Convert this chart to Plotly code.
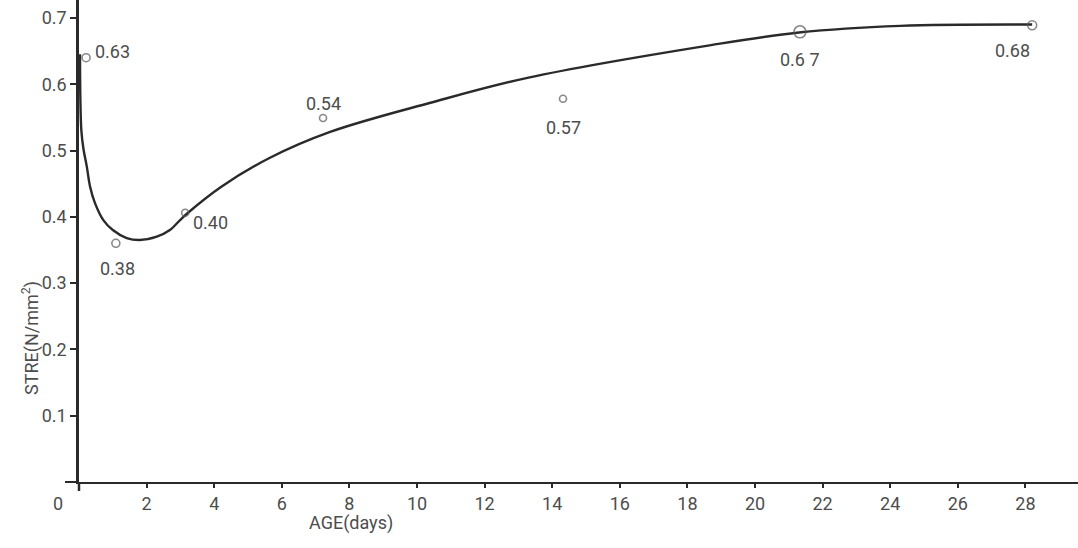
import plotly.graph_objects as go

# measured data points (age in days, stress N/mm^2)
point_days = [0.21, 1.09, 3.14, 7.22, 14.32, 21.33, 28.2]
point_stress = [0.640, 0.360, 0.406, 0.549, 0.578, 0.679, 0.689]
point_labels = ["0.63", "0.38", "0.40", "0.54", "0.57", "0.6 7", "0.68"]
marker_sizes = [8, 8, 7, 7, 7, 12, 9]
# label offsets (pixels) relative to each point
label_dx = [26, 2, 25, 0, 0, 0, -20]
label_dy = [6, -25, -10, 15, -29, -28, -25]

# hand-drawn fitted curve
curve_days = [0.03, 0.04, 0.07, 0.13, 0.23, 0.33, 0.47, 0.72, 1.0, 1.41, 1.8, 2.3,
              2.69, 2.99, 3.2, 4.2, 5.65, 7.43, 10.4, 13.3, 18.7, 21.3, 24.3, 28.2]
curve_stress = [0.645, 0.58, 0.53, 0.503, 0.476, 0.445, 0.421, 0.395, 0.38, 0.368,
                0.365, 0.370, 0.380, 0.395, 0.405, 0.445, 0.489, 0.528, 0.572, 0.610,
                0.659, 0.678, 0.688, 0.690]

x_ticks = [2, 4, 6, 8, 10, 12, 14, 16, 18, 20, 22, 24, 26, 28]
y_ticks = [0.1, 0.2, 0.3, 0.4, 0.5, 0.6, 0.7]
y_ticktext = ["0.1", "0.2", "0.3", "0.4", "0.5", "0.6", "0.7"]

ink = "#2a2a2a"
txt = "#4d4d4d"
font_family = "Roboto, DejaVu Sans, sans-serif"
PW, PH, L = 999, 482, 79

fig = go.Figure()
fig.add_trace(go.Scatter(
    x=curve_days, y=curve_stress, mode="lines",
    line=dict(color=ink, width=2.4, shape="spline", smoothing=1.0),
    hoverinfo="skip", showlegend=False))
fig.add_trace(go.Scatter(
    x=point_days, y=point_stress, mode="markers",
    marker=dict(symbol="circle-open", size=marker_sizes, color="#555", line=dict(width=1.6)),
    showlegend=False))

for d, s, t, dx, dy in zip(point_days, point_stress, point_labels, label_dx, label_dy):
    fig.add_annotation(x=d, y=s, text=t, showarrow=False, xshift=dx, yshift=dy,
                       xanchor="center", yanchor="middle",
                       font=dict(family=font_family, size=18, color=txt))

def px_ann(cx, cy, text, angle=0):
    fig.add_annotation(xref="paper", yref="paper", x=(cx - L) / PW, y=(PH - cy) / PH,
                       xanchor="center", yanchor="middle", text=text, textangle=angle,
                       showarrow=False, font=dict(family=font_family, size=18, color=txt))

px_ann(58, 503, "0")
px_ann(351, 523, "AGE(days)")
px_ann(30, 338, "STRE(N/mm<sup>2</sup>)", angle=-90)

# axis overhangs (x axis extends left of origin, y axis below it)
fig.add_shape(type="line", xref="paper", yref="paper", x0=(65 - L) / PW, x1=0, y0=0, y1=0,
              line=dict(color=ink, width=2))
fig.add_shape(type="line", xref="paper", yref="paper", x0=0, x1=0, y0=0, y1=-9 / PH,
              line=dict(color=ink, width=2.5))

fig.update_layout(
    width=1078, height=548,
    margin=dict(l=L, r=0, t=0, b=548 - PH),
    paper_bgcolor="white", plot_bgcolor="white",
    xaxis=dict(range=[0, PW / 33.8], tickvals=x_ticks, showgrid=False, zeroline=False,
               showline=True, linecolor=ink, linewidth=2, ticks="outside", ticklen=4,
               tickcolor=ink, tickwidth=1.5,
               tickfont=dict(family=font_family, size=18, color=txt)),
    yaxis=dict(range=[0, 0.727], tickvals=y_ticks, ticktext=y_ticktext, showgrid=False,
               zeroline=False, showline=True, linecolor=ink, linewidth=2.5,
               ticks="outside", ticklen=6, tickcolor=ink, tickwidth=1.5,
               tickfont=dict(family=font_family, size=18, color=txt)),
)

fig.write_html("out.html")
